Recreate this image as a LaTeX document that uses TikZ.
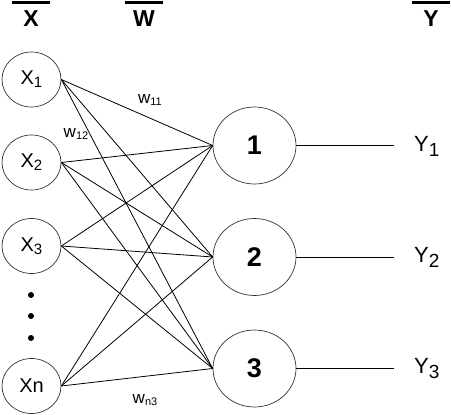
\documentclass[tikz,border=0pt]{standalone}
\usepackage{fontspec}
\setmainfont{Liberation Sans}
\usetikzlibrary{shapes.geometric}
\tikzset{
  inp/.style={ellipse,draw=black!80,line width=0.7pt,minimum width=59pt,minimum height=55pt,inner sep=0pt,font=\fontsize{20}{20}\selectfont},
  outp/.style={ellipse,draw=black!80,line width=0.7pt,minimum width=83pt,minimum height=77pt,inner sep=0pt,font=\fontsize{27}{27}\selectfont\bfseries},
  edge/.style={line width=0.8pt,black},
  hdr/.style={font=\fontsize{23}{23}\selectfont\bfseries,inner sep=0pt},
  bar/.style={line width=2.5pt,black},
  wlab/.style={font=\fontsize{17}{17}\selectfont,inner sep=0pt},
  ylab/.style={font=\fontsize{22}{22}\selectfont,inner sep=0pt,anchor=west},
  dot/.style={circle,fill=black,inner sep=0pt,minimum size=6pt}
}
\begin{document}
\begin{tikzpicture}[x=1pt,y=-1pt]
\useasboundingbox (0,0) rectangle (451,415);
% headers
\node[hdr] (hx) at (31,18.5) {X};
\node[hdr] (hw) at (144,18.5) {W};
\node[hdr] (hy) at (431,18.5) {Y};
\coordinate (bx1) at (12,2.5); \coordinate (bx2) at (50,2.5);
\coordinate (bw1) at (125,2.5); \coordinate (bw2) at (163,2.5);
\coordinate (by1) at (412,2.5); \coordinate (by2) at (450,2.5);
\draw[bar] (bx1) -- (bx2);
\draw[bar] (bw1) -- (bw2);
\draw[bar] (by1) -- (by2);
% inputs
\node[inp] (x1) at (31.5,79.5) {X{\fontsize{15}{15}\selectfont\raisebox{-3pt}{1}}};
\node[inp] (x2) at (31.5,162.5) {X{\fontsize{15}{15}\selectfont\raisebox{-3pt}{2}}};
\node[inp] (x3) at (31.5,246) {X{\fontsize{15}{15}\selectfont\raisebox{-3pt}{3}}};
\node[inp] (xn) at (31.5,386) {Xn};
\node[dot] (d1) at (31,295) {};
\node[dot] (d2) at (31,316) {};
\node[dot] (d3) at (31,338) {};
% outputs
\node[outp] (o1) at (254.5,145.5) {1};
\node[outp] (o2) at (254.5,257) {2};
\node[outp] (o3) at (254.5,368.5) {3};
% edges
\foreach \i in {x1,x2,x3,xn}{
  \foreach \j in {o1,o2,o3}{
    \draw[edge] (\i.east) -- (\j.west);
  }
}
% output lines
\coordinate (e1) at (394,145.5);
\coordinate (e2) at (394,257);
\coordinate (e3) at (394,368.5);
\draw[edge] (o1.east) -- (e1);
\draw[edge] (o2.east) -- (e2);
\draw[edge] (o3.east) -- (e3);
\node[ylab] (y1) at (414,146) {Y{\fontsize{19}{19}\selectfont\raisebox{-5pt}{1}}};
\node[ylab] (y2) at (414,257.5) {Y{\fontsize{19}{19}\selectfont\raisebox{-5pt}{2}}};
\node[ylab] (y3) at (414,369) {Y{\fontsize{19}{19}\selectfont\raisebox{-5pt}{3}}};
% weight labels
\node[wlab] (w11) at (150,100) {w{\fontsize{11}{11}\selectfont\raisebox{-2pt}{11}}};
\node[wlab] (w12) at (76,134) {w{\fontsize{11}{11}\selectfont\raisebox{-2pt}{12}}};
\node[wlab] (wn3) at (145,400) {w{\fontsize{11}{11}\selectfont\raisebox{-2pt}{n3}}};
\end{tikzpicture}
\end{document}
